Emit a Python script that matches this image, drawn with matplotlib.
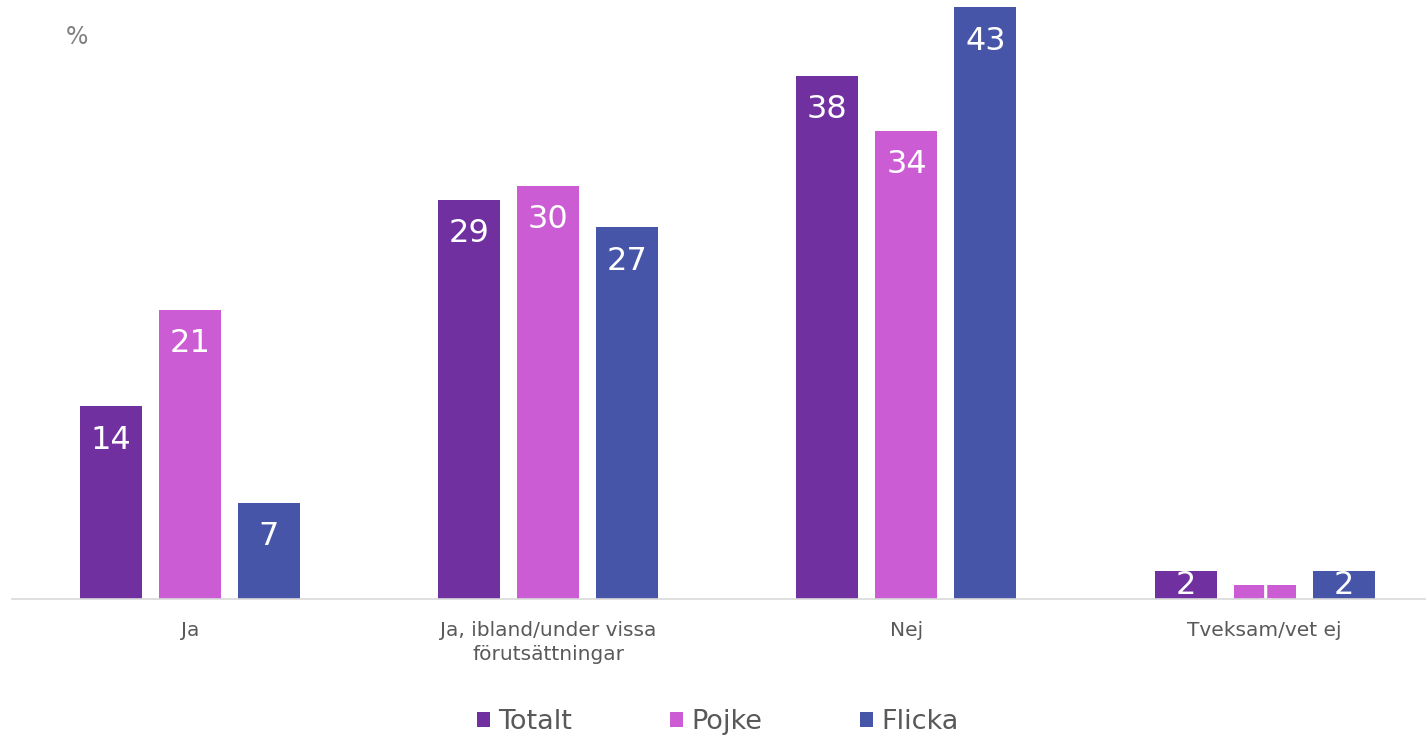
import matplotlib
matplotlib.use("Agg")
import matplotlib.pyplot as plt
from matplotlib.patches import Patch
import numpy as np

categories = ["Ja", "Ja, ibland/under vissa\nförutsättningar", "Nej", "Tveksam/vet ej"]
series_names = ["Totalt", "Pojke", "Flicka"]
totalt = [14, 29, 38, 2]
pojke = [21, 30, 34, 1]
flicka = [7, 27, 43, 2]
colors = ["#7030A0", "#CC5CD4", "#4655A7"]

plt.rcParams['font.family'] = ['DejaVu Sans']
fig = plt.figure(figsize=(14.27, 7.39), dpi=100)
ax = fig.add_axes([0.0084, 0.1894, 0.990, 0.8011])

x = np.arange(len(categories))
width = 0.173
step = 0.2205
px_per_unit = 13.77
for i, (vals, name, col) in enumerate(zip([totalt, pojke, flicka], series_names, colors)):
    pos = x + (i - 1) * step
    ax.bar(pos, vals, width=width, color=col, zorder=2)
    for p, v in zip(pos, vals):
        ly = max(v - 34 / px_per_unit, v / 2)
        ax.text(p, ly, str(v), ha='center', va='center', color='white',
                fontsize=23, zorder=3)

ax.set_xlim(-0.497, 3.447)
ax.set_ylim(0, 43)
for s in ['top', 'right', 'left']:
    ax.spines[s].set_visible(False)
ax.spines['bottom'].set_color('#D9D9D9')
ax.spines['bottom'].set_linewidth(1.2)
ax.spines['bottom'].set_zorder(4)
ax.set_yticks([])
ax.set_xticks(x)
ax.set_xticklabels(categories, fontsize=14.5, color='#595959', linespacing=1.3)
ax.tick_params(axis='x', length=0, pad=16)

fig.text(0.046, 0.95, "%", fontsize=17, color='#808080', ha='left', va='center')

handles = [Patch(facecolor=c, edgecolor='none') for c in colors]
fig.legend(handles, series_names, loc='center', bbox_to_anchor=(0.503, 0.023),
           ncol=3, frameon=False, fontsize=19.5, handlelength=0.5, handleheight=0.5,
           handletextpad=0.3, columnspacing=3.6, labelcolor='#595959')

fig.savefig("out.png", dpi=100)
